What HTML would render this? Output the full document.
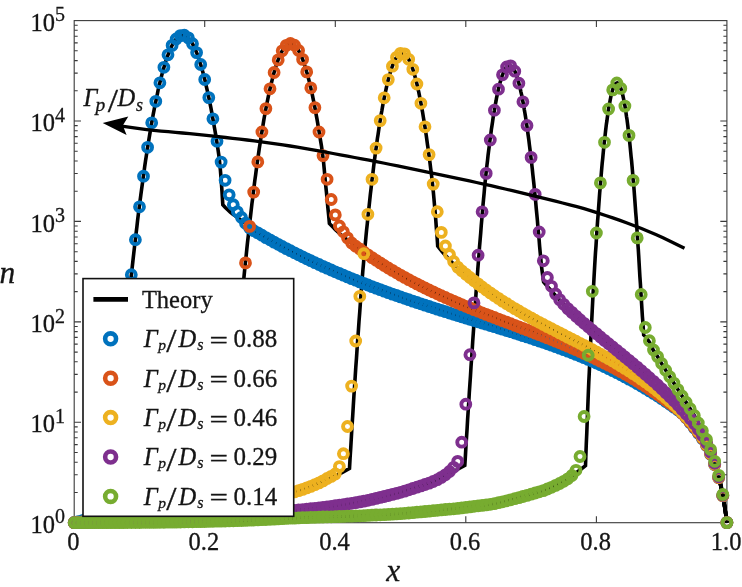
<!DOCTYPE html>
<html><head><meta charset="utf-8"><title>n versus x</title>
<style>html,body{margin:0;padding:0;background:#fff}</style></head>
<body>
<svg width="742" height="587" viewBox="0 0 742 587" style="display:block">
<rect width="742" height="587" fill="#fff"/>
<defs><clipPath id="cp"><rect x="66.2" y="12.6" width="668.7" height="518.1"/></clipPath></defs>
<g stroke="#3a3a3a" stroke-width="1.1" fill="none">
<rect x="74.2" y="20.6" width="652.7" height="502.1"/>
<path d="M74.2,492.5h3.5M726.9,492.5h-3.5M74.2,474.8h3.5M726.9,474.8h-3.5M74.2,462.2h3.5M726.9,462.2h-3.5M74.2,452.5h3.5M726.9,452.5h-3.5M74.2,444.6h3.5M726.9,444.6h-3.5M74.2,437.8h3.5M726.9,437.8h-3.5M74.2,432.0h3.5M726.9,432.0h-3.5M74.2,426.9h3.5M726.9,426.9h-3.5M74.2,422.3h6.8M726.9,422.3h-6.6M74.2,392.1h3.5M726.9,392.1h-3.5M74.2,374.4h3.5M726.9,374.4h-3.5M74.2,361.8h3.5M726.9,361.8h-3.5M74.2,352.1h3.5M726.9,352.1h-3.5M74.2,344.1h3.5M726.9,344.1h-3.5M74.2,337.4h3.5M726.9,337.4h-3.5M74.2,331.6h3.5M726.9,331.6h-3.5M74.2,326.5h3.5M726.9,326.5h-3.5M74.2,321.9h6.8M726.9,321.9h-6.6M74.2,291.6h3.5M726.9,291.6h-3.5M74.2,273.9h3.5M726.9,273.9h-3.5M74.2,261.4h3.5M726.9,261.4h-3.5M74.2,251.7h3.5M726.9,251.7h-3.5M74.2,243.7h3.5M726.9,243.7h-3.5M74.2,237.0h3.5M726.9,237.0h-3.5M74.2,231.2h3.5M726.9,231.2h-3.5M74.2,226.0h3.5M726.9,226.0h-3.5M74.2,221.4h6.8M726.9,221.4h-6.6M74.2,191.2h3.5M726.9,191.2h-3.5M74.2,173.5h3.5M726.9,173.5h-3.5M74.2,161.0h3.5M726.9,161.0h-3.5M74.2,151.2h3.5M726.9,151.2h-3.5M74.2,143.3h3.5M726.9,143.3h-3.5M74.2,136.6h3.5M726.9,136.6h-3.5M74.2,130.8h3.5M726.9,130.8h-3.5M74.2,125.6h3.5M726.9,125.6h-3.5M74.2,121.0h6.8M726.9,121.0h-6.6M74.2,90.8h3.5M726.9,90.8h-3.5M74.2,73.1h3.5M726.9,73.1h-3.5M74.2,60.6h3.5M726.9,60.6h-3.5M74.2,50.8h3.5M726.9,50.8h-3.5M74.2,42.9h3.5M726.9,42.9h-3.5M74.2,36.2h3.5M726.9,36.2h-3.5M74.2,30.3h3.5M726.9,30.3h-3.5M74.2,25.2h3.5M726.9,25.2h-3.5M204.7,522.7v-6.5M204.7,20.6v6.5M335.3,522.7v-6.5M335.3,20.6v6.5M465.8,522.7v-6.5M465.8,20.6v6.5M596.4,522.7v-6.5M596.4,20.6v6.5"/>
</g>
<g fill="none" stroke="#000" stroke-width="3.6" stroke-linejoin="miter" stroke-miterlimit="3">
<path d="M74.2,522.7 L75.5,522.4 L76.9,522.1 L78.2,521.8 L79.6,521.5 L80.9,521.2 L82.2,520.9 L83.6,520.4 L84.9,519.7 L86.2,518.9 L87.6,518.0 L88.9,516.9 L90.3,515.8 L91.6,514.3 L92.9,512.5 L94.3,510.4 L95.6,508.0 L96.9,505.6 L98.3,503.1 L99.6,500.7 L101.0,498.3 L102.3,496.0 L103.6,493.7 L105.0,491.3 L106.3,488.7 L107.6,485.9 L109.0,482.7 L110.3,479.0 L111.7,474.1 L113.0,468.5 L113.2,468.0 L114.0,460.1 L114.8,452.1 L115.6,443.8 L116.4,435.4 L117.1,426.7 L117.9,417.7 L118.7,408.4 L119.5,399.1 L120.3,389.8 L121.1,380.8 L121.9,372.1 L122.7,363.4 L123.5,354.8 L124.2,346.4 L125.0,338.1 L125.8,329.9 L126.6,321.7 L127.4,313.8 L128.2,305.9 L129.0,298.1 L129.8,290.5 L130.5,282.9 L131.3,275.5 L132.1,268.2 L132.9,261.0 L133.7,253.9 L134.5,246.9 L135.3,240.1 L136.1,233.3 L136.9,226.7 L137.6,220.2 L138.4,213.8 L139.2,207.5 L140.0,201.3 L140.8,195.2 L141.6,189.2 L142.4,183.4 L143.2,177.7 L144.0,172.0 L144.7,166.5 L145.5,161.1 L146.3,155.9 L147.1,150.7 L147.9,145.6 L148.7,140.7 L149.5,135.9 L150.3,131.1 L151.0,126.6 L151.8,122.1 L152.6,117.7 L153.4,113.4 L154.2,109.3 L155.0,105.2 L155.8,101.3 L156.6,97.5 L157.4,93.8 L158.1,90.2 L158.9,86.7 L159.7,83.4 L160.5,80.1 L161.3,77.0 L162.1,73.9 L162.9,71.1 L163.7,68.3 L164.5,65.6 L165.2,63.0 L166.0,60.5 L166.8,58.2 L167.6,56.0 L168.4,53.9 L169.2,51.8 L170.0,49.9 L170.8,48.1 L171.5,46.5 L172.3,45.0 L173.1,43.5 L173.9,42.1 L174.7,40.9 L175.5,39.9 L176.3,38.9 L177.1,37.9 L177.9,37.1 L178.6,36.4 L179.4,36.0 L180.2,35.7 L181.0,35.5 L181.8,35.3 L182.6,35.2 L183.4,35.1 L184.2,35.1 L185.0,35.4 L185.7,35.8 L186.5,36.3 L187.3,36.9 L188.1,37.6 L188.9,38.4 L189.7,39.3 L190.5,40.4 L191.3,41.6 L192.0,42.9 L192.8,44.3 L193.6,45.8 L194.4,47.5 L195.2,49.2 L196.0,51.1 L196.8,53.1 L197.6,55.2 L198.4,57.4 L199.1,59.7 L199.9,62.2 L200.7,64.7 L201.5,67.4 L202.3,70.2 L203.1,73.1 L203.9,76.1 L204.7,79.2 L205.5,82.5 L206.2,85.8 L207.0,89.3 L207.8,92.9 L208.6,96.6 L209.4,100.4 L210.2,104.4 L211.0,108.4 L211.8,112.6 L212.5,116.9 L213.3,121.2 L214.1,125.7 L214.9,130.2 L215.7,134.9 L216.5,139.8 L217.3,145.0 L218.1,150.2 L218.9,155.8 L219.6,162.2 L220.4,170.1 L221.2,180.0 L222.0,191.7 L222.8,204.7 L225.3,207.4 L227.7,209.8 L230.2,212.0 L232.7,214.0 L235.2,215.9 L237.6,217.7 L240.1,219.5 L242.6,221.2 L245.1,223.0 L247.5,224.8 L250.0,226.6 L252.0,229.7 L254.0,230.9 L256.0,231.9 L258.0,233.0 L260.0,234.2 L262.0,235.3 L264.0,236.5 L266.0,237.6 L268.0,238.7 L270.0,239.8 L272.0,240.9 L274.0,242.0 L276.0,243.1 L278.0,244.2 L280.0,245.3 L282.0,246.3 L284.0,247.4 L286.0,248.4 L288.0,249.5 L290.0,250.5 L292.0,251.5 L294.0,252.5 L296.0,253.5 L298.0,254.5 L300.0,255.5 L302.0,256.5 L304.0,257.5 L306.0,258.5 L308.0,259.4 L310.0,260.4 L312.0,261.3 L314.0,262.2 L316.0,263.2 L318.0,264.1 L320.0,265.0 L322.0,265.9 L324.0,266.8 L326.0,267.7 L328.0,268.6 L330.0,269.5 L332.0,270.4 L334.0,271.2 L336.0,272.1 L338.0,272.9 L340.0,273.8 L342.0,274.6 L344.0,275.5 L346.0,276.3 L348.0,277.1 L350.0,277.9 L352.0,278.8 L354.0,279.6 L356.0,280.4 L358.0,281.2 L360.0,281.9 L362.0,282.7 L364.0,283.5 L366.0,284.3 L368.0,285.1 L370.0,285.8 L372.0,286.6 L374.0,287.3 L376.0,288.1 L378.0,288.8 L380.0,289.6 L382.0,290.3 L384.0,291.0 L386.0,291.8 L388.0,292.5 L390.0,293.2 L392.0,293.9 L394.0,294.6 L396.0,295.3 L398.0,296.0 L400.0,296.7 L402.0,297.4 L404.0,298.1 L406.0,298.8 L408.0,299.5 L410.0,300.2 L412.0,300.8 L414.0,301.5 L416.0,302.2 L418.0,302.8 L420.0,303.5 L422.0,304.2 L424.0,304.8 L426.0,305.5 L428.0,306.1 L430.0,306.8 L432.0,307.4 L434.0,308.1 L436.0,308.7 L438.0,309.4 L440.0,310.0 L442.0,310.6 L444.0,311.3 L446.0,311.9 L448.0,312.5 L450.0,313.1 L452.0,313.8 L454.0,314.4 L456.0,315.0 L458.0,315.6 L460.0,316.2 L462.0,316.9 L464.0,317.5 L466.0,318.1 L468.0,318.7 L470.0,319.3 L472.0,319.9 L474.0,320.5 L476.0,321.1 L478.0,321.8 L480.0,322.4 L482.0,323.0 L484.0,323.6 L486.0,324.2 L488.0,324.8 L490.0,325.4 L492.0,326.0 L494.0,326.6 L496.0,327.2 L498.0,327.8 L500.0,328.4 L502.0,329.1 L504.0,329.7 L506.0,330.3 L508.0,330.9 L510.0,331.5 L512.0,332.1 L514.0,332.8 L516.0,333.4 L518.0,334.0 L520.0,334.7 L522.0,335.3 L524.0,335.9 L526.0,336.6 L528.0,337.2 L530.0,337.9 L532.0,338.5 L534.0,339.2 L536.0,339.9 L538.0,340.5 L540.0,341.2 L542.0,341.9 L544.0,342.6 L546.0,343.3 L548.0,344.0 L550.0,344.7 L552.0,345.4 L554.0,346.1 L556.0,346.8 L558.0,347.5 L560.0,348.3 L562.0,349.0 L564.0,349.8 L566.0,350.5 L568.0,351.3 L570.0,352.0 L572.0,352.8 L574.0,353.6 L576.0,354.4 L578.0,355.2 L580.0,356.0 L582.0,356.8 L584.0,357.7 L586.0,358.5 L588.0,359.3 L590.0,360.2 L592.0,361.1 L594.0,361.9 L596.0,362.8 L598.0,363.7 L600.0,364.6 L602.0,365.6 L604.0,366.5 L606.0,367.4 L608.0,368.4 L610.0,369.3 L612.0,370.3 L614.0,371.3 L616.0,372.3 L618.0,373.3 L620.0,374.3 L622.0,375.4 L624.0,376.4 L626.0,377.5 L628.0,378.5 L630.0,379.6 L632.0,380.7 L634.0,381.8 L636.0,383.0 L638.0,384.1 L640.0,385.2 L642.0,386.4 L644.0,387.6 L646.0,388.8 L648.0,390.0 L650.0,391.2 L652.0,392.5 L654.0,393.7 L656.0,395.0 L658.0,396.3 L660.0,397.6 L662.0,399.0 L664.0,400.3 L666.0,401.7 L668.0,403.0 L670.0,404.4 L672.0,405.9 L674.0,407.3 L676.0,408.7 L678.0,410.1 L680.0,411.6 L682.0,413.2 L684.0,415.2 L686.0,417.4 L688.0,419.9 L690.0,422.4 L692.0,425.0 L694.0,427.6 L696.0,430.1 L698.0,432.6 L700.0,435.2 L702.0,438.0 L704.0,441.1 L706.0,444.6 L708.0,448.5 L710.0,452.9 L712.0,457.6 L714.0,462.8 L716.0,468.6 L718.0,475.0 L720.0,482.6 L722.0,491.6 L724.0,502.5 L726.0,515.9 L726.9,522.7"/>
<path d="M74.2,522.7 L79.5,522.2 L84.8,521.6 L90.1,520.8 L95.4,520.0 L100.7,519.1 L106.0,518.2 L111.3,517.1 L116.6,516.0 L121.9,514.9 L127.2,513.7 L132.5,512.4 L137.8,511.1 L143.1,509.8 L148.4,508.4 L153.8,507.0 L159.1,505.5 L164.4,504.0 L169.7,502.3 L175.0,500.6 L180.3,498.6 L185.6,496.6 L190.9,494.3 L196.2,491.9 L201.5,489.2 L206.8,485.9 L212.1,482.0 L217.4,477.6 L222.7,472.9 L228.0,468.0 L227.8,468.0 L228.5,457.9 L229.3,448.0 L230.0,438.2 L230.7,428.7 L231.5,419.3 L232.2,410.0 L232.9,400.9 L233.6,391.9 L234.4,383.0 L235.1,374.2 L235.8,365.6 L236.6,357.0 L237.3,348.6 L238.0,340.2 L238.8,332.0 L239.5,323.9 L240.2,316.0 L241.0,308.1 L241.7,300.3 L242.4,292.7 L243.1,285.2 L243.9,277.8 L244.6,270.5 L245.3,263.3 L246.1,256.3 L246.8,249.3 L247.5,242.5 L248.3,235.8 L249.0,229.2 L249.7,222.7 L250.5,216.3 L251.2,210.1 L251.9,203.9 L252.7,197.9 L253.4,192.0 L254.1,186.2 L254.8,180.6 L255.6,175.0 L256.3,169.5 L257.0,164.2 L257.8,159.0 L258.5,153.9 L259.2,148.9 L260.0,144.0 L260.7,139.3 L261.4,134.6 L262.2,130.1 L262.9,125.7 L263.6,121.4 L264.3,117.2 L265.1,113.2 L265.8,109.2 L266.5,105.4 L267.3,101.7 L268.0,98.1 L268.7,94.6 L269.5,91.2 L270.2,88.0 L270.9,84.8 L271.7,81.8 L272.4,78.9 L273.1,76.1 L273.8,73.4 L274.6,70.8 L275.3,68.4 L276.0,66.0 L276.8,63.8 L277.5,61.7 L278.2,59.7 L279.0,57.8 L279.7,56.0 L280.4,54.4 L281.2,52.9 L281.9,51.5 L282.6,50.2 L283.4,49.0 L284.1,47.9 L284.8,47.0 L285.5,46.1 L286.3,45.3 L287.0,44.7 L287.7,44.2 L288.5,44.0 L289.2,43.9 L289.9,43.9 L290.7,43.8 L291.4,43.8 L292.1,43.8 L292.9,43.9 L293.6,44.4 L294.3,45.0 L295.0,45.8 L295.8,46.5 L296.5,47.3 L297.2,48.3 L298.0,49.5 L298.7,50.8 L299.4,52.1 L300.2,53.5 L300.9,55.1 L301.6,56.8 L302.4,58.7 L303.1,60.6 L303.8,62.6 L304.5,64.8 L305.3,67.0 L306.0,69.4 L306.7,72.0 L307.5,74.5 L308.2,77.3 L308.9,80.1 L309.7,83.1 L310.4,86.2 L311.1,89.4 L311.9,92.7 L312.6,96.1 L313.3,99.6 L314.1,103.3 L314.8,107.1 L315.5,110.9 L316.2,114.9 L317.0,119.1 L317.7,123.3 L318.4,127.6 L319.2,132.1 L319.9,136.5 L320.6,140.9 L321.4,145.6 L322.1,150.6 L322.8,156.1 L323.6,162.6 L324.3,170.0 L325.0,177.8 L325.7,185.4 L326.5,192.9 L327.2,200.4 L327.9,208.0 L328.7,215.7 L329.4,223.4 L331.4,225.6 L333.4,227.6 L335.4,229.6 L337.4,231.5 L339.4,233.3 L341.4,235.0 L343.4,236.7 L345.4,238.3 L347.4,239.9 L349.4,241.5 L351.4,243.0 L353.4,244.6 L355.4,246.0 L357.4,247.4 L359.4,248.8 L361.4,250.2 L363.4,251.6 L365.4,253.1 L367.4,254.4 L369.4,255.8 L371.4,257.2 L373.4,258.5 L375.4,259.8 L377.4,261.1 L379.4,262.4 L381.4,263.7 L383.4,264.9 L385.4,266.2 L387.4,267.4 L389.4,268.6 L391.4,269.8 L393.4,271.0 L395.4,272.2 L397.4,273.3 L399.4,274.5 L401.4,275.6 L403.4,276.7 L405.4,277.8 L407.4,278.9 L409.4,280.0 L411.4,281.1 L413.4,282.1 L415.4,283.2 L417.4,284.2 L419.4,285.2 L421.4,286.2 L423.4,287.2 L425.4,288.2 L427.4,289.2 L429.4,290.1 L431.4,291.1 L433.4,292.0 L435.4,293.0 L437.4,293.9 L439.4,294.8 L441.4,295.7 L443.4,296.6 L445.4,297.5 L447.4,298.4 L449.4,299.3 L451.4,300.2 L453.4,301.0 L455.4,301.9 L457.4,302.7 L459.4,303.6 L461.4,304.4 L463.4,305.3 L465.4,306.1 L467.4,306.9 L469.4,307.7 L471.4,308.5 L473.4,309.3 L475.4,310.1 L477.4,310.9 L479.4,311.7 L481.4,312.5 L483.4,313.3 L485.4,314.1 L487.4,314.8 L489.4,315.6 L491.4,316.4 L493.4,317.2 L495.4,317.9 L497.4,318.7 L499.4,319.5 L501.4,320.2 L503.4,321.0 L505.4,321.7 L507.4,322.5 L509.4,323.3 L511.4,324.0 L513.4,324.8 L515.4,325.5 L517.4,326.3 L519.4,327.0 L521.4,327.8 L523.4,328.6 L525.4,329.3 L527.4,330.1 L529.4,330.9 L531.4,331.6 L533.4,332.4 L535.4,333.2 L537.4,333.9 L539.4,334.7 L541.4,335.5 L543.4,336.3 L545.4,337.1 L547.4,337.9 L549.4,338.7 L551.4,339.5 L553.4,340.3 L555.4,341.1 L557.4,341.9 L559.4,342.7 L561.4,343.5 L563.4,344.4 L565.4,345.2 L567.4,346.0 L569.4,346.9 L571.4,347.7 L573.4,348.6 L575.4,349.5 L577.4,350.4 L579.4,351.2 L581.4,352.1 L583.4,353.0 L585.4,354.0 L587.4,354.9 L589.4,355.8 L591.4,356.7 L593.4,357.7 L595.4,358.6 L597.4,359.6 L599.4,360.6 L601.4,361.6 L603.4,362.6 L605.4,363.6 L607.4,364.6 L609.4,365.6 L611.4,366.7 L613.4,367.7 L615.4,368.8 L617.4,369.9 L619.4,370.9 L621.4,372.0 L623.4,373.2 L625.4,374.3 L627.4,375.4 L629.4,376.6 L631.4,377.8 L633.4,378.9 L635.4,380.1 L637.4,381.3 L639.4,382.6 L641.4,383.8 L643.4,385.1 L645.4,386.3 L647.4,387.6 L649.4,388.9 L651.4,390.3 L653.4,391.6 L655.4,392.9 L657.4,394.3 L659.4,395.7 L661.4,397.1 L663.4,398.5 L665.4,400.0 L667.4,401.4 L669.4,402.9 L671.4,404.4 L673.4,405.9 L675.4,407.3 L677.4,408.9 L679.4,410.6 L681.4,412.4 L683.4,414.5 L685.4,416.7 L687.4,418.9 L689.4,421.3 L691.4,423.7 L693.4,426.1 L695.4,428.6 L697.4,431.2 L699.4,433.9 L701.4,436.6 L703.4,439.6 L705.4,443.1 L707.4,446.9 L709.4,451.2 L711.4,455.9 L713.4,461.0 L715.4,466.6 L717.4,472.9 L719.4,480.1 L721.4,488.6 L723.4,498.9 L725.4,511.6 L726.9,522.7"/>
<path d="M74.2,522.7 L81.3,522.2 L88.3,521.7 L95.4,521.1 L102.4,520.5 L109.5,519.9 L116.6,519.3 L123.6,518.6 L130.7,518.0 L137.7,517.3 L144.8,516.5 L151.8,515.8 L158.9,515.0 L166.0,514.3 L173.0,513.4 L180.1,512.6 L187.1,511.7 L194.2,510.8 L201.3,509.8 L208.3,508.8 L215.4,507.7 L222.4,506.6 L229.5,505.5 L236.6,504.3 L243.6,503.0 L250.7,501.7 L257.7,500.4 L264.8,498.9 L271.9,497.4 L278.9,495.8 L286.0,494.1 L293.0,492.3 L300.1,490.3 L307.1,487.8 L314.2,484.9 L321.3,481.9 L328.3,479.0 L335.4,476.0 L342.4,472.5 L349.5,468.4 L350.1,457.7 L350.8,447.0 L351.4,436.6 L352.0,426.2 L352.7,416.0 L353.3,405.9 L353.9,396.0 L354.6,386.2 L355.2,376.6 L355.8,367.2 L356.5,357.9 L357.1,348.7 L357.7,339.5 L358.4,330.5 L359.0,321.5 L359.7,312.7 L360.3,304.0 L360.9,295.5 L361.6,287.1 L362.2,279.0 L362.8,271.1 L363.5,263.5 L364.1,256.1 L364.7,249.1 L365.4,242.5 L366.0,236.1 L366.6,229.9 L367.3,223.6 L367.9,217.4 L368.5,211.4 L369.2,205.4 L369.8,199.6 L370.4,193.9 L371.1,188.3 L371.7,182.8 L372.3,177.4 L373.0,172.2 L373.6,167.0 L374.2,162.0 L374.9,157.1 L375.5,152.3 L376.2,147.6 L376.8,143.0 L377.4,138.5 L378.1,134.2 L378.7,130.0 L379.3,125.8 L380.0,121.8 L380.6,117.9 L381.2,114.1 L381.9,110.5 L382.5,106.9 L383.1,103.5 L383.8,100.1 L384.4,96.9 L385.0,93.8 L385.7,90.8 L386.3,88.0 L386.9,85.2 L387.6,82.6 L388.2,80.0 L388.8,77.6 L389.5,75.3 L390.1,73.1 L390.7,71.0 L391.4,69.0 L392.0,67.2 L392.6,65.5 L393.3,63.8 L393.9,62.3 L394.6,60.9 L395.2,59.6 L395.8,58.5 L396.5,57.4 L397.1,56.4 L397.7,55.6 L398.4,54.9 L399.0,54.3 L399.6,53.7 L400.3,53.3 L400.9,53.2 L401.5,53.2 L402.2,53.2 L402.8,53.3 L403.4,53.4 L404.1,53.5 L404.7,53.9 L405.3,54.5 L406.0,55.2 L406.6,55.9 L407.2,56.8 L407.9,57.8 L408.5,58.9 L409.1,60.1 L409.8,61.4 L410.4,62.8 L411.0,64.4 L411.7,66.1 L412.3,67.9 L413.0,69.7 L413.6,71.8 L414.2,73.9 L414.9,76.1 L415.5,78.5 L416.1,80.9 L416.8,83.5 L417.4,86.2 L418.0,89.0 L418.7,91.9 L419.3,94.9 L419.9,98.1 L420.6,101.4 L421.2,104.7 L421.8,108.2 L422.5,111.8 L423.1,115.5 L423.7,119.3 L424.4,123.3 L425.0,127.3 L425.6,131.5 L426.3,135.8 L426.9,140.2 L427.5,144.7 L428.2,149.3 L428.8,154.0 L429.5,158.9 L430.1,163.7 L430.7,168.7 L431.4,173.9 L432.0,179.4 L432.6,185.2 L433.3,191.5 L433.9,198.2 L434.5,205.2 L435.2,212.6 L435.8,220.3 L436.4,228.5 L437.1,237.1 L437.7,246.0 L439.9,248.8 L442.1,251.5 L444.3,254.1 L446.5,256.5 L448.7,258.9 L450.9,261.2 L453.1,263.4 L455.3,265.5 L457.5,267.5 L459.5,268.9 L461.5,270.6 L463.5,272.2 L465.5,273.9 L467.5,275.5 L469.5,277.2 L471.5,278.8 L473.5,280.4 L475.5,282.0 L477.5,283.5 L479.5,285.0 L481.5,286.5 L483.5,288.0 L485.5,289.5 L487.5,290.9 L489.5,292.3 L491.5,293.7 L493.5,295.1 L495.5,296.4 L497.5,297.8 L499.5,299.1 L501.5,300.4 L503.5,301.7 L505.5,302.9 L507.5,304.2 L509.5,305.4 L511.5,306.7 L513.5,307.9 L515.5,309.1 L517.5,310.2 L519.5,311.4 L521.5,312.6 L523.5,313.7 L525.5,314.8 L527.5,315.9 L529.5,317.1 L531.5,318.2 L533.5,319.3 L535.5,320.3 L537.5,321.4 L539.5,322.5 L541.5,323.5 L543.5,324.6 L545.5,325.6 L547.5,326.7 L549.5,327.7 L551.5,328.7 L553.5,329.8 L555.5,330.8 L557.5,331.8 L559.5,332.8 L561.5,333.9 L563.5,334.9 L565.5,335.9 L567.5,336.9 L569.5,337.9 L571.5,339.0 L573.5,340.0 L575.5,341.0 L577.5,342.0 L579.5,343.1 L581.5,344.1 L583.5,345.1 L585.5,346.2 L587.5,347.2 L589.5,348.3 L591.5,349.3 L593.5,350.4 L595.5,351.4 L597.5,352.5 L599.5,353.6 L601.5,354.7 L603.5,355.8 L605.5,356.9 L607.5,358.1 L609.5,359.2 L611.5,360.3 L613.5,361.5 L615.5,362.7 L617.5,363.9 L619.5,365.1 L621.5,366.3 L623.5,367.5 L625.5,368.7 L627.5,370.0 L629.5,371.3 L631.5,372.6 L633.5,373.9 L635.5,375.2 L637.5,376.6 L639.5,377.9 L641.5,379.3 L643.5,380.7 L645.5,382.1 L647.5,383.6 L649.5,385.0 L651.5,386.5 L653.5,388.0 L655.5,389.6 L657.5,391.1 L659.5,392.7 L661.5,394.3 L663.5,396.0 L665.5,397.6 L667.5,399.3 L669.5,401.0 L671.5,402.8 L673.5,404.5 L675.5,406.3 L677.5,408.1 L679.5,409.9 L681.5,411.9 L683.5,413.9 L685.5,415.9 L687.5,418.0 L689.5,420.2 L691.5,422.5 L693.5,424.9 L695.5,427.4 L697.5,430.1 L699.5,432.9 L701.5,435.7 L703.5,438.8 L705.5,442.4 L707.5,446.3 L709.5,450.7 L711.5,455.6 L713.5,460.8 L715.5,466.6 L717.5,472.9 L719.5,480.2 L721.5,488.9 L723.5,499.4 L725.5,512.3 L726.9,522.7"/>
<path d="M74.2,522.7 L80.8,522.6 L87.4,522.5 L94.1,522.3 L100.7,522.2 L107.3,522.0 L113.9,521.8 L120.5,521.6 L127.2,521.3 L133.8,521.1 L140.4,520.9 L147.0,520.6 L153.6,520.4 L160.3,520.1 L166.9,519.7 L173.5,519.4 L180.1,519.0 L186.7,518.6 L193.4,518.2 L200.0,517.8 L206.6,517.4 L213.2,517.0 L219.8,516.5 L226.5,516.1 L233.1,515.6 L239.7,515.1 L246.3,514.6 L252.9,514.0 L259.6,513.5 L266.2,512.9 L272.8,512.3 L279.4,511.7 L286.1,511.1 L292.7,510.5 L299.3,509.9 L305.9,509.2 L312.5,508.5 L319.2,507.8 L325.8,507.0 L332.4,506.1 L339.0,505.2 L345.6,504.2 L352.3,503.2 L358.9,502.1 L365.5,500.8 L372.1,499.3 L378.7,497.8 L385.4,496.2 L392.0,494.5 L398.6,492.8 L405.2,490.9 L411.8,488.8 L418.5,486.7 L425.1,484.5 L431.7,482.1 L438.3,479.1 L444.9,475.8 L451.6,472.5 L458.2,469.0 L464.8,465.4 L465.4,456.1 L465.9,446.9 L466.5,437.7 L467.1,428.6 L467.6,419.6 L468.2,410.6 L468.8,401.7 L469.3,392.9 L469.9,384.2 L470.5,375.5 L471.0,367.0 L471.6,358.5 L472.2,350.0 L472.7,341.5 L473.3,333.1 L473.9,324.8 L474.4,316.5 L475.0,308.3 L475.6,300.2 L476.1,292.2 L476.7,284.4 L477.3,276.7 L477.8,269.1 L478.4,261.7 L479.0,254.5 L479.5,247.2 L480.1,240.1 L480.7,233.1 L481.2,226.1 L481.8,219.3 L482.4,212.6 L482.9,206.0 L483.5,199.6 L484.1,193.4 L484.6,187.3 L485.2,181.5 L485.8,175.9 L486.3,170.6 L486.9,165.6 L487.5,160.7 L488.0,155.8 L488.6,151.1 L489.2,146.5 L489.7,142.0 L490.3,137.7 L490.9,133.4 L491.4,129.3 L492.0,125.4 L492.6,121.5 L493.1,117.8 L493.7,114.2 L494.3,110.8 L494.8,107.4 L495.4,104.2 L496.0,101.2 L496.5,98.2 L497.1,95.4 L497.7,92.7 L498.2,90.1 L498.8,87.7 L499.4,85.4 L499.9,83.2 L500.5,81.1 L501.1,79.2 L501.6,77.4 L502.2,75.7 L502.8,74.2 L503.3,72.8 L503.9,71.5 L504.5,70.3 L505.1,69.2 L505.6,68.3 L506.2,67.5 L506.8,66.8 L507.3,66.3 L507.9,66.0 L508.5,65.8 L509.0,65.7 L509.6,65.6 L510.2,65.6 L510.7,65.8 L511.3,66.2 L511.9,66.7 L512.4,67.3 L513.0,68.0 L513.6,68.9 L514.1,69.9 L514.7,71.0 L515.3,72.3 L515.8,73.7 L516.4,75.2 L517.0,76.8 L517.5,78.6 L518.1,80.5 L518.7,82.5 L519.2,84.6 L519.8,86.9 L520.4,89.3 L520.9,91.8 L521.5,94.4 L522.1,97.2 L522.6,100.1 L523.2,103.2 L523.8,106.3 L524.3,109.6 L524.9,113.0 L525.5,116.6 L526.0,120.2 L526.6,124.0 L527.2,128.0 L527.7,132.0 L528.3,136.2 L528.9,140.5 L529.4,144.9 L530.0,149.5 L530.6,154.2 L531.1,159.0 L531.7,163.9 L532.3,169.0 L532.8,174.2 L533.4,179.5 L534.0,185.0 L534.5,190.5 L535.1,196.2 L535.7,202.1 L536.2,208.0 L536.8,214.1 L537.4,220.4 L537.9,226.9 L538.5,233.3 L539.1,239.6 L539.6,246.1 L540.2,252.6 L540.8,258.8 L541.3,264.5 L541.9,269.5 L542.5,274.1 L543.0,278.3 L543.6,282.0 L546.3,285.1 L548.9,288.1 L551.6,291.1 L554.2,294.1 L556.9,297.0 L559.5,299.9 L562.2,302.7 L564.8,305.6 L567.5,308.5 L569.5,310.2 L571.5,312.1 L573.5,313.9 L575.5,315.7 L577.5,317.5 L579.5,319.2 L581.5,321.0 L583.5,322.7 L585.5,324.5 L587.5,326.2 L589.5,327.9 L591.5,329.6 L593.5,331.3 L595.5,332.9 L597.5,334.6 L599.5,336.2 L601.5,337.9 L603.5,339.5 L605.5,341.2 L607.5,342.8 L609.5,344.4 L611.5,346.1 L613.5,347.7 L615.5,349.3 L617.5,350.9 L619.5,352.6 L621.5,354.2 L623.5,355.8 L625.5,357.4 L627.5,359.1 L629.5,360.7 L631.5,362.4 L633.5,364.1 L635.5,365.7 L637.5,367.4 L639.5,369.1 L641.5,370.8 L643.5,372.5 L645.5,374.2 L647.5,376.0 L649.5,377.8 L651.5,379.5 L653.5,381.3 L655.5,383.1 L657.5,385.0 L659.5,386.8 L661.5,388.7 L663.5,390.6 L665.5,392.5 L667.5,394.5 L669.5,396.4 L671.5,398.4 L673.5,400.4 L675.5,402.5 L677.5,404.6 L679.5,406.7 L681.5,408.8 L683.5,411.0 L685.5,413.2 L687.5,415.4 L689.5,417.7 L691.5,420.1 L693.5,422.6 L695.5,425.3 L697.5,428.2 L699.5,431.1 L701.5,434.0 L703.5,437.3 L705.5,441.0 L707.5,445.1 L709.5,449.7 L711.5,454.6 L713.5,460.0 L715.5,465.8 L717.5,472.3 L719.5,479.8 L721.5,488.6 L723.5,499.1 L725.5,512.2 L726.9,522.7"/>
<path d="M74.2,522.7 L80.7,522.7 L87.1,522.7 L93.6,522.7 L100.1,522.7 L106.6,522.6 L113.0,522.6 L119.5,522.6 L126.0,522.5 L132.4,522.5 L138.9,522.5 L145.4,522.4 L151.9,522.4 L158.3,522.3 L164.8,522.2 L171.3,522.1 L177.8,522.0 L184.2,521.9 L190.7,521.8 L197.2,521.7 L203.6,521.5 L210.1,521.4 L216.6,521.2 L223.1,521.0 L229.5,520.9 L236.0,520.7 L242.5,520.5 L248.9,520.2 L255.4,520.0 L261.9,519.7 L268.4,519.4 L274.8,519.0 L281.3,518.7 L287.8,518.4 L294.3,518.1 L300.7,517.8 L307.2,517.6 L313.7,517.3 L320.1,517.1 L326.6,516.9 L333.1,516.7 L339.6,516.5 L346.0,516.3 L352.5,516.1 L359.0,515.8 L365.4,515.5 L371.9,515.2 L378.4,514.9 L384.9,514.6 L391.3,514.2 L397.8,513.8 L404.3,513.3 L410.8,512.8 L417.2,512.2 L423.7,511.6 L430.2,511.0 L436.6,510.3 L443.1,509.7 L449.6,509.1 L456.1,508.5 L462.5,507.8 L469.0,507.0 L475.5,506.1 L481.9,505.4 L488.4,504.6 L494.9,503.4 L501.4,502.1 L507.8,500.5 L514.3,498.9 L520.8,497.1 L527.3,495.3 L533.7,493.5 L540.2,491.6 L546.7,489.3 L553.1,486.5 L559.6,483.5 L566.1,479.8 L572.6,475.5 L579.0,470.7 L585.5,465.7 L585.9,454.5 L586.3,443.5 L586.8,432.7 L587.2,422.0 L587.6,411.6 L588.0,401.4 L588.4,391.4 L588.8,381.6 L589.3,372.1 L589.7,362.9 L590.1,353.8 L590.5,344.9 L590.9,336.2 L591.4,327.6 L591.8,319.2 L592.2,311.0 L592.6,303.0 L593.0,295.1 L593.5,287.4 L593.9,279.9 L594.3,272.6 L594.7,265.6 L595.1,258.9 L595.5,252.3 L596.0,245.8 L596.4,239.4 L596.8,233.1 L597.2,226.9 L597.6,220.9 L598.1,215.0 L598.5,209.2 L598.9,203.6 L599.3,198.1 L599.7,192.7 L600.2,187.4 L600.6,182.3 L601.0,177.3 L601.4,172.4 L601.8,167.7 L602.2,163.1 L602.7,158.6 L603.1,154.2 L603.5,150.0 L603.9,145.9 L604.3,142.0 L604.8,138.1 L605.2,134.4 L605.6,130.8 L606.0,127.4 L606.4,124.1 L606.9,120.9 L607.3,117.8 L607.7,114.9 L608.1,112.1 L608.5,109.4 L608.9,106.8 L609.4,104.4 L609.8,102.2 L610.2,100.0 L610.6,98.0 L611.0,96.0 L611.5,94.3 L611.9,92.7 L612.3,91.1 L612.7,89.7 L613.1,88.5 L613.6,87.4 L614.0,86.4 L614.4,85.4 L614.8,84.7 L615.2,84.1 L615.6,83.8 L616.1,83.5 L616.5,83.2 L616.9,83.1 L617.3,83.0 L617.7,83.2 L618.2,83.5 L618.6,84.0 L619.0,84.5 L619.4,85.1 L619.8,85.9 L620.3,86.9 L620.7,88.0 L621.1,89.2 L621.5,90.4 L621.9,91.9 L622.3,93.5 L622.8,95.2 L623.2,97.1 L623.6,99.0 L624.0,101.1 L624.4,103.4 L624.9,105.7 L625.3,108.2 L625.7,110.8 L626.1,113.6 L626.5,116.5 L627.0,119.4 L627.4,122.6 L627.8,125.8 L628.2,129.2 L628.6,132.8 L629.0,136.4 L629.5,140.2 L629.9,144.1 L630.3,148.1 L630.7,152.3 L631.1,156.6 L631.6,161.0 L632.0,165.5 L632.4,170.2 L632.8,175.0 L633.2,180.0 L633.7,185.0 L634.1,190.2 L634.5,195.6 L634.9,201.0 L635.3,206.6 L635.7,212.3 L636.2,218.1 L636.6,224.1 L637.0,230.2 L637.4,236.4 L637.8,242.8 L638.3,249.3 L638.7,255.9 L639.1,262.8 L639.5,269.8 L639.9,276.9 L640.4,283.8 L640.8,290.5 L641.2,297.1 L641.6,303.6 L642.0,310.1 L642.4,316.5 L642.9,322.7 L643.3,328.9 L643.7,335.0 L645.6,336.8 L647.5,339.3 L649.4,342.1 L651.3,345.7 L653.2,350.0 L655.2,352.9 L657.2,356.0 L659.2,359.4 L661.2,362.8 L663.2,366.1 L665.2,369.4 L667.2,372.6 L669.2,375.8 L671.2,378.9 L673.2,382.0 L675.2,385.2 L677.2,388.4 L679.2,391.6 L681.2,394.7 L683.2,397.8 L685.2,400.8 L687.2,403.9 L689.2,407.1 L691.2,410.4 L693.2,413.7 L695.2,417.2 L697.2,420.9 L699.2,424.6 L701.2,428.4 L703.2,432.4 L705.2,436.6 L707.2,441.1 L709.2,445.9 L711.2,451.2 L713.2,456.8 L715.2,463.0 L717.2,469.7 L719.2,477.3 L721.2,486.1 L723.2,496.7 L725.2,509.7 L726.9,522.7"/>
</g>
<g fill="none" stroke="#0072BD" stroke-width="3.90">
<circle cx="74.2" cy="522.5" r="4.45"/>
<circle cx="78.3" cy="521.6" r="4.45"/>
<circle cx="82.4" cy="520.7" r="4.45"/>
<circle cx="86.4" cy="518.7" r="4.45"/>
<circle cx="90.5" cy="515.5" r="4.45"/>
<circle cx="94.6" cy="509.8" r="4.45"/>
<circle cx="98.7" cy="502.4" r="4.45"/>
<circle cx="102.8" cy="494.7" r="4.45"/>
<circle cx="106.8" cy="486.1" r="4.45"/>
<circle cx="110.9" cy="478.6" r="4.45"/>
<circle cx="115.0" cy="474.1" r="4.45"/>
<circle cx="119.1" cy="465.0" r="4.45"/>
<circle cx="123.2" cy="357.0" r="4.45"/>
<circle cx="127.2" cy="312.0" r="4.45"/>
<circle cx="131.3" cy="274.7" r="4.45"/>
<circle cx="135.4" cy="239.7" r="4.45"/>
<circle cx="139.5" cy="206.8" r="4.45"/>
<circle cx="143.5" cy="176.2" r="4.45"/>
<circle cx="147.6" cy="147.3" r="4.45"/>
<circle cx="151.7" cy="122.8" r="4.45"/>
<circle cx="155.8" cy="101.3" r="4.45"/>
<circle cx="159.9" cy="82.8" r="4.45"/>
<circle cx="163.9" cy="67.3" r="4.45"/>
<circle cx="168.0" cy="54.8" r="4.45"/>
<circle cx="172.1" cy="45.4" r="4.45"/>
<circle cx="176.2" cy="39.0" r="4.45"/>
<circle cx="180.3" cy="35.6" r="4.45"/>
<circle cx="184.3" cy="35.2" r="4.45"/>
<circle cx="188.4" cy="37.9" r="4.45"/>
<circle cx="192.5" cy="43.7" r="4.45"/>
<circle cx="196.6" cy="52.6" r="4.45"/>
<circle cx="200.7" cy="64.5" r="4.45"/>
<circle cx="204.7" cy="79.5" r="4.45"/>
<circle cx="208.8" cy="97.6" r="4.45"/>
<circle cx="212.9" cy="118.8" r="4.45"/>
<circle cx="217.0" cy="141.2" r="4.45"/>
<circle cx="221.1" cy="162.1" r="4.45"/>
<circle cx="225.1" cy="180.3" r="4.45"/>
<circle cx="229.2" cy="194.8" r="4.45"/>
<circle cx="233.3" cy="204.7" r="4.45"/>
<circle cx="237.4" cy="211.8" r="4.45"/>
<circle cx="241.5" cy="217.5" r="4.45"/>
<circle cx="245.5" cy="223.2" r="4.45"/>
<circle cx="249.6" cy="227.9" r="4.45"/>
<circle cx="253.7" cy="230.7" r="4.45"/>
<circle cx="257.8" cy="232.9" r="4.45"/>
<circle cx="261.9" cy="235.2" r="4.45"/>
<circle cx="265.9" cy="237.6" r="4.45"/>
<circle cx="270.0" cy="239.8" r="4.45"/>
<circle cx="274.1" cy="242.1" r="4.45"/>
<circle cx="278.2" cy="244.3" r="4.45"/>
<circle cx="282.2" cy="246.5" r="4.45"/>
<circle cx="286.3" cy="248.6" r="4.45"/>
<circle cx="290.4" cy="250.7" r="4.45"/>
<circle cx="294.5" cy="252.8" r="4.45"/>
<circle cx="298.6" cy="254.8" r="4.45"/>
<circle cx="302.6" cy="256.8" r="4.45"/>
<circle cx="306.7" cy="258.8" r="4.45"/>
<circle cx="310.8" cy="260.7" r="4.45"/>
<circle cx="314.9" cy="262.7" r="4.45"/>
<circle cx="319.0" cy="264.5" r="4.45"/>
<circle cx="323.0" cy="266.4" r="4.45"/>
<circle cx="327.1" cy="268.2" r="4.45"/>
<circle cx="331.2" cy="270.0" r="4.45"/>
<circle cx="335.3" cy="271.8" r="4.45"/>
<circle cx="339.4" cy="273.5" r="4.45"/>
<circle cx="343.4" cy="275.2" r="4.45"/>
<circle cx="347.5" cy="276.9" r="4.45"/>
<circle cx="351.6" cy="278.6" r="4.45"/>
<circle cx="355.7" cy="280.2" r="4.45"/>
<circle cx="359.8" cy="281.9" r="4.45"/>
<circle cx="363.8" cy="283.4" r="4.45"/>
<circle cx="367.9" cy="285.0" r="4.45"/>
<circle cx="372.0" cy="286.6" r="4.45"/>
<circle cx="376.1" cy="288.1" r="4.45"/>
<circle cx="380.2" cy="289.6" r="4.45"/>
<circle cx="384.2" cy="291.1" r="4.45"/>
<circle cx="388.3" cy="292.6" r="4.45"/>
<circle cx="392.4" cy="294.1" r="4.45"/>
<circle cx="396.5" cy="295.5" r="4.45"/>
<circle cx="400.5" cy="296.9" r="4.45"/>
<circle cx="404.6" cy="298.3" r="4.45"/>
<circle cx="408.7" cy="299.7" r="4.45"/>
<circle cx="412.8" cy="301.1" r="4.45"/>
<circle cx="416.9" cy="302.5" r="4.45"/>
<circle cx="420.9" cy="303.8" r="4.45"/>
<circle cx="425.0" cy="305.2" r="4.45"/>
<circle cx="429.1" cy="306.5" r="4.45"/>
<circle cx="433.2" cy="307.8" r="4.45"/>
<circle cx="437.3" cy="309.1" r="4.45"/>
<circle cx="441.3" cy="310.4" r="4.45"/>
<circle cx="445.4" cy="311.7" r="4.45"/>
<circle cx="449.5" cy="313.0" r="4.45"/>
<circle cx="453.6" cy="314.3" r="4.45"/>
<circle cx="457.7" cy="315.5" r="4.45"/>
<circle cx="461.7" cy="316.8" r="4.45"/>
<circle cx="465.8" cy="318.0" r="4.45"/>
<circle cx="469.9" cy="319.3" r="4.45"/>
<circle cx="474.0" cy="320.5" r="4.45"/>
<circle cx="478.1" cy="321.8" r="4.45"/>
<circle cx="482.1" cy="323.0" r="4.45"/>
<circle cx="486.2" cy="324.2" r="4.45"/>
<circle cx="490.3" cy="325.5" r="4.45"/>
<circle cx="494.4" cy="326.7" r="4.45"/>
<circle cx="498.5" cy="328.0" r="4.45"/>
<circle cx="502.5" cy="329.2" r="4.45"/>
<circle cx="506.6" cy="330.5" r="4.45"/>
<circle cx="510.7" cy="331.7" r="4.45"/>
<circle cx="514.8" cy="333.0" r="4.45"/>
<circle cx="518.9" cy="334.3" r="4.45"/>
<circle cx="522.9" cy="335.6" r="4.45"/>
<circle cx="527.0" cy="336.9" r="4.45"/>
<circle cx="531.1" cy="338.2" r="4.45"/>
<circle cx="535.2" cy="339.6" r="4.45"/>
<circle cx="539.2" cy="341.0" r="4.45"/>
<circle cx="543.3" cy="342.3" r="4.45"/>
<circle cx="547.4" cy="343.8" r="4.45"/>
<circle cx="551.5" cy="345.2" r="4.45"/>
<circle cx="555.6" cy="346.6" r="4.45"/>
<circle cx="559.6" cy="348.1" r="4.45"/>
<circle cx="563.7" cy="349.7" r="4.45"/>
<circle cx="567.8" cy="351.2" r="4.45"/>
<circle cx="571.9" cy="352.8" r="4.45"/>
<circle cx="576.0" cy="354.4" r="4.45"/>
<circle cx="580.0" cy="356.0" r="4.45"/>
<circle cx="584.1" cy="357.7" r="4.45"/>
<circle cx="588.2" cy="359.4" r="4.45"/>
<circle cx="592.3" cy="361.2" r="4.45"/>
<circle cx="596.4" cy="363.0" r="4.45"/>
<circle cx="600.4" cy="364.8" r="4.45"/>
<circle cx="604.5" cy="366.7" r="4.45"/>
<circle cx="608.6" cy="368.7" r="4.45"/>
<circle cx="612.7" cy="370.6" r="4.45"/>
<circle cx="616.8" cy="372.7" r="4.45"/>
<circle cx="620.8" cy="374.8" r="4.45"/>
<circle cx="624.9" cy="376.9" r="4.45"/>
<circle cx="629.0" cy="379.1" r="4.45"/>
<circle cx="633.1" cy="381.3" r="4.45"/>
<circle cx="637.2" cy="383.6" r="4.45"/>
<circle cx="641.2" cy="386.0" r="4.45"/>
<circle cx="645.3" cy="388.4" r="4.45"/>
<circle cx="649.4" cy="390.9" r="4.45"/>
<circle cx="653.5" cy="393.4" r="4.45"/>
<circle cx="657.6" cy="396.0" r="4.45"/>
<circle cx="661.6" cy="398.7" r="4.45"/>
<circle cx="665.7" cy="401.5" r="4.45"/>
<circle cx="669.8" cy="404.3" r="4.45"/>
<circle cx="673.9" cy="407.2" r="4.45"/>
<circle cx="677.9" cy="410.0" r="4.45"/>
<circle cx="682.0" cy="413.2" r="4.45"/>
<circle cx="686.1" cy="417.6" r="4.45"/>
<circle cx="690.2" cy="422.7" r="4.45"/>
<circle cx="694.3" cy="427.9" r="4.45"/>
<circle cx="698.3" cy="433.1" r="4.45"/>
<circle cx="702.4" cy="438.6" r="4.45"/>
<circle cx="706.5" cy="445.5" r="4.45"/>
<circle cx="710.6" cy="454.2" r="4.45"/>
<circle cx="714.7" cy="464.7" r="4.45"/>
<circle cx="718.7" cy="477.7" r="4.45"/>
<circle cx="722.8" cy="495.8" r="4.45"/>
<circle cx="726.9" cy="522.6" r="4.45"/>
</g>
<g fill="none" stroke="#D95319" stroke-width="3.90">
<circle cx="74.2" cy="522.6" r="4.45"/>
<circle cx="78.3" cy="522.2" r="4.45"/>
<circle cx="82.4" cy="521.8" r="4.45"/>
<circle cx="86.4" cy="521.3" r="4.45"/>
<circle cx="90.5" cy="520.7" r="4.45"/>
<circle cx="94.6" cy="520.1" r="4.45"/>
<circle cx="98.7" cy="519.4" r="4.45"/>
<circle cx="102.8" cy="518.7" r="4.45"/>
<circle cx="106.8" cy="518.0" r="4.45"/>
<circle cx="110.9" cy="517.2" r="4.45"/>
<circle cx="115.0" cy="516.3" r="4.45"/>
<circle cx="119.1" cy="515.5" r="4.45"/>
<circle cx="123.2" cy="514.6" r="4.45"/>
<circle cx="127.2" cy="513.7" r="4.45"/>
<circle cx="131.3" cy="512.7" r="4.45"/>
<circle cx="135.4" cy="511.7" r="4.45"/>
<circle cx="139.5" cy="510.7" r="4.45"/>
<circle cx="143.5" cy="509.7" r="4.45"/>
<circle cx="147.6" cy="508.6" r="4.45"/>
<circle cx="151.7" cy="507.5" r="4.45"/>
<circle cx="155.8" cy="506.4" r="4.45"/>
<circle cx="159.9" cy="505.3" r="4.45"/>
<circle cx="163.9" cy="504.1" r="4.45"/>
<circle cx="168.0" cy="502.8" r="4.45"/>
<circle cx="172.1" cy="501.4" r="4.45"/>
<circle cx="176.2" cy="500.0" r="4.45"/>
<circle cx="180.3" cy="498.5" r="4.45"/>
<circle cx="184.3" cy="497.0" r="4.45"/>
<circle cx="188.4" cy="495.3" r="4.45"/>
<circle cx="192.5" cy="493.5" r="4.45"/>
<circle cx="196.6" cy="491.6" r="4.45"/>
<circle cx="200.7" cy="489.7" r="4.45"/>
<circle cx="204.7" cy="487.9" r="4.45"/>
<circle cx="208.8" cy="486.2" r="4.45"/>
<circle cx="212.9" cy="484.3" r="4.45"/>
<circle cx="217.0" cy="481.9" r="4.45"/>
<circle cx="221.1" cy="478.6" r="4.45"/>
<circle cx="225.1" cy="474.1" r="4.45"/>
<circle cx="229.2" cy="466.5" r="4.45"/>
<circle cx="233.3" cy="436.7" r="4.45"/>
<circle cx="237.4" cy="352.0" r="4.45"/>
<circle cx="241.5" cy="304.0" r="4.45"/>
<circle cx="245.5" cy="262.9" r="4.45"/>
<circle cx="249.6" cy="226.4" r="4.45"/>
<circle cx="253.7" cy="192.1" r="4.45"/>
<circle cx="257.8" cy="161.9" r="4.45"/>
<circle cx="261.9" cy="132.0" r="4.45"/>
<circle cx="265.9" cy="108.6" r="4.45"/>
<circle cx="270.0" cy="88.8" r="4.45"/>
<circle cx="274.1" cy="72.5" r="4.45"/>
<circle cx="278.2" cy="59.9" r="4.45"/>
<circle cx="282.2" cy="50.8" r="4.45"/>
<circle cx="286.3" cy="45.4" r="4.45"/>
<circle cx="290.4" cy="43.5" r="4.45"/>
<circle cx="294.5" cy="45.2" r="4.45"/>
<circle cx="298.6" cy="50.5" r="4.45"/>
<circle cx="302.6" cy="59.4" r="4.45"/>
<circle cx="306.7" cy="71.9" r="4.45"/>
<circle cx="310.8" cy="87.9" r="4.45"/>
<circle cx="314.9" cy="107.6" r="4.45"/>
<circle cx="319.0" cy="132.0" r="4.45"/>
<circle cx="323.0" cy="155.6" r="4.45"/>
<circle cx="327.1" cy="179.3" r="4.45"/>
<circle cx="331.2" cy="199.5" r="4.45"/>
<circle cx="335.3" cy="214.9" r="4.45"/>
<circle cx="339.4" cy="226.0" r="4.45"/>
<circle cx="343.4" cy="231.8" r="4.45"/>
<circle cx="347.5" cy="237.9" r="4.45"/>
<circle cx="351.6" cy="243.0" r="4.45"/>
<circle cx="355.7" cy="246.2" r="4.45"/>
<circle cx="359.8" cy="249.0" r="4.45"/>
<circle cx="363.8" cy="252.0" r="4.45"/>
<circle cx="367.9" cy="254.8" r="4.45"/>
<circle cx="372.0" cy="257.6" r="4.45"/>
<circle cx="376.1" cy="260.3" r="4.45"/>
<circle cx="380.2" cy="262.9" r="4.45"/>
<circle cx="384.2" cy="265.5" r="4.45"/>
<circle cx="388.3" cy="268.0" r="4.45"/>
<circle cx="392.4" cy="270.4" r="4.45"/>
<circle cx="396.5" cy="272.8" r="4.45"/>
<circle cx="400.5" cy="275.1" r="4.45"/>
<circle cx="404.6" cy="277.4" r="4.45"/>
<circle cx="408.7" cy="279.6" r="4.45"/>
<circle cx="412.8" cy="281.8" r="4.45"/>
<circle cx="416.9" cy="283.9" r="4.45"/>
<circle cx="420.9" cy="286.0" r="4.45"/>
<circle cx="425.0" cy="288.0" r="4.45"/>
<circle cx="429.1" cy="290.0" r="4.45"/>
<circle cx="433.2" cy="291.9" r="4.45"/>
<circle cx="437.3" cy="293.8" r="4.45"/>
<circle cx="441.3" cy="295.7" r="4.45"/>
<circle cx="445.4" cy="297.5" r="4.45"/>
<circle cx="449.5" cy="299.3" r="4.45"/>
<circle cx="453.6" cy="301.1" r="4.45"/>
<circle cx="457.7" cy="302.9" r="4.45"/>
<circle cx="461.7" cy="304.6" r="4.45"/>
<circle cx="465.8" cy="306.3" r="4.45"/>
<circle cx="469.9" cy="307.9" r="4.45"/>
<circle cx="474.0" cy="309.6" r="4.45"/>
<circle cx="478.1" cy="311.2" r="4.45"/>
<circle cx="482.1" cy="312.8" r="4.45"/>
<circle cx="486.2" cy="314.4" r="4.45"/>
<circle cx="490.3" cy="316.0" r="4.45"/>
<circle cx="494.4" cy="317.5" r="4.45"/>
<circle cx="498.5" cy="319.1" r="4.45"/>
<circle cx="502.5" cy="320.7" r="4.45"/>
<circle cx="506.6" cy="322.2" r="4.45"/>
<circle cx="510.7" cy="323.7" r="4.45"/>
<circle cx="514.8" cy="325.3" r="4.45"/>
<circle cx="518.9" cy="326.8" r="4.45"/>
<circle cx="522.9" cy="328.4" r="4.45"/>
<circle cx="527.0" cy="329.9" r="4.45"/>
<circle cx="531.1" cy="331.5" r="4.45"/>
<circle cx="535.2" cy="333.1" r="4.45"/>
<circle cx="539.2" cy="334.7" r="4.45"/>
<circle cx="543.3" cy="336.3" r="4.45"/>
<circle cx="547.4" cy="337.9" r="4.45"/>
<circle cx="551.5" cy="339.5" r="4.45"/>
<circle cx="555.6" cy="341.1" r="4.45"/>
<circle cx="559.6" cy="342.8" r="4.45"/>
<circle cx="563.7" cy="344.5" r="4.45"/>
<circle cx="567.8" cy="346.2" r="4.45"/>
<circle cx="571.9" cy="348.0" r="4.45"/>
<circle cx="576.0" cy="349.7" r="4.45"/>
<circle cx="580.0" cy="351.5" r="4.45"/>
<circle cx="584.1" cy="353.4" r="4.45"/>
<circle cx="588.2" cy="355.2" r="4.45"/>
<circle cx="592.3" cy="357.2" r="4.45"/>
<circle cx="596.4" cy="359.1" r="4.45"/>
<circle cx="600.4" cy="361.1" r="4.45"/>
<circle cx="604.5" cy="363.1" r="4.45"/>
<circle cx="608.6" cy="365.2" r="4.45"/>
<circle cx="612.7" cy="367.3" r="4.45"/>
<circle cx="616.8" cy="369.5" r="4.45"/>
<circle cx="620.8" cy="371.7" r="4.45"/>
<circle cx="624.9" cy="374.0" r="4.45"/>
<circle cx="629.0" cy="376.3" r="4.45"/>
<circle cx="633.1" cy="378.7" r="4.45"/>
<circle cx="637.2" cy="381.2" r="4.45"/>
<circle cx="641.2" cy="383.7" r="4.45"/>
<circle cx="645.3" cy="386.3" r="4.45"/>
<circle cx="649.4" cy="388.9" r="4.45"/>
<circle cx="653.5" cy="391.6" r="4.45"/>
<circle cx="657.6" cy="394.4" r="4.45"/>
<circle cx="661.6" cy="397.3" r="4.45"/>
<circle cx="665.7" cy="400.2" r="4.45"/>
<circle cx="669.8" cy="403.2" r="4.45"/>
<circle cx="673.9" cy="406.2" r="4.45"/>
<circle cx="677.9" cy="409.3" r="4.45"/>
<circle cx="682.0" cy="413.1" r="4.45"/>
<circle cx="686.1" cy="417.5" r="4.45"/>
<circle cx="690.2" cy="422.2" r="4.45"/>
<circle cx="694.3" cy="427.2" r="4.45"/>
<circle cx="698.3" cy="432.5" r="4.45"/>
<circle cx="702.4" cy="438.1" r="4.45"/>
<circle cx="706.5" cy="445.1" r="4.45"/>
<circle cx="710.6" cy="453.9" r="4.45"/>
<circle cx="714.7" cy="464.5" r="4.45"/>
<circle cx="718.7" cy="477.6" r="4.45"/>
<circle cx="722.8" cy="495.7" r="4.45"/>
<circle cx="726.9" cy="522.6" r="4.45"/>
</g>
<g fill="none" stroke="#EDB120" stroke-width="3.90">
<circle cx="74.2" cy="522.7" r="4.45"/>
<circle cx="78.3" cy="522.4" r="4.45"/>
<circle cx="82.4" cy="522.1" r="4.45"/>
<circle cx="86.4" cy="521.8" r="4.45"/>
<circle cx="90.5" cy="521.5" r="4.45"/>
<circle cx="94.6" cy="521.2" r="4.45"/>
<circle cx="98.7" cy="520.9" r="4.45"/>
<circle cx="102.8" cy="520.5" r="4.45"/>
<circle cx="106.8" cy="520.2" r="4.45"/>
<circle cx="110.9" cy="519.8" r="4.45"/>
<circle cx="115.0" cy="519.4" r="4.45"/>
<circle cx="119.1" cy="519.1" r="4.45"/>
<circle cx="123.2" cy="518.7" r="4.45"/>
<circle cx="127.2" cy="518.3" r="4.45"/>
<circle cx="131.3" cy="517.9" r="4.45"/>
<circle cx="135.4" cy="517.5" r="4.45"/>
<circle cx="139.5" cy="517.1" r="4.45"/>
<circle cx="143.5" cy="516.7" r="4.45"/>
<circle cx="147.6" cy="516.2" r="4.45"/>
<circle cx="151.7" cy="515.8" r="4.45"/>
<circle cx="155.8" cy="515.4" r="4.45"/>
<circle cx="159.9" cy="514.9" r="4.45"/>
<circle cx="163.9" cy="514.5" r="4.45"/>
<circle cx="168.0" cy="514.0" r="4.45"/>
<circle cx="172.1" cy="513.5" r="4.45"/>
<circle cx="176.2" cy="513.1" r="4.45"/>
<circle cx="180.3" cy="512.6" r="4.45"/>
<circle cx="184.3" cy="512.0" r="4.45"/>
<circle cx="188.4" cy="511.5" r="4.45"/>
<circle cx="192.5" cy="511.0" r="4.45"/>
<circle cx="196.6" cy="510.4" r="4.45"/>
<circle cx="200.7" cy="509.9" r="4.45"/>
<circle cx="204.7" cy="509.3" r="4.45"/>
<circle cx="208.8" cy="508.7" r="4.45"/>
<circle cx="212.9" cy="508.1" r="4.45"/>
<circle cx="217.0" cy="507.5" r="4.45"/>
<circle cx="221.1" cy="506.8" r="4.45"/>
<circle cx="225.1" cy="506.2" r="4.45"/>
<circle cx="229.2" cy="505.5" r="4.45"/>
<circle cx="233.3" cy="504.8" r="4.45"/>
<circle cx="237.4" cy="504.1" r="4.45"/>
<circle cx="241.5" cy="503.4" r="4.45"/>
<circle cx="245.5" cy="502.7" r="4.45"/>
<circle cx="249.6" cy="501.9" r="4.45"/>
<circle cx="253.7" cy="501.2" r="4.45"/>
<circle cx="257.8" cy="500.4" r="4.45"/>
<circle cx="261.9" cy="499.5" r="4.45"/>
<circle cx="265.9" cy="498.7" r="4.45"/>
<circle cx="270.0" cy="497.8" r="4.45"/>
<circle cx="274.1" cy="496.9" r="4.45"/>
<circle cx="278.2" cy="496.0" r="4.45"/>
<circle cx="282.2" cy="495.0" r="4.45"/>
<circle cx="286.3" cy="494.0" r="4.45"/>
<circle cx="290.4" cy="492.9" r="4.45"/>
<circle cx="294.5" cy="491.9" r="4.45"/>
<circle cx="298.6" cy="490.7" r="4.45"/>
<circle cx="302.6" cy="489.4" r="4.45"/>
<circle cx="306.7" cy="487.9" r="4.45"/>
<circle cx="310.8" cy="486.4" r="4.45"/>
<circle cx="314.9" cy="484.6" r="4.45"/>
<circle cx="319.0" cy="482.9" r="4.45"/>
<circle cx="323.0" cy="480.9" r="4.45"/>
<circle cx="327.1" cy="478.5" r="4.45"/>
<circle cx="331.2" cy="476.4" r="4.45"/>
<circle cx="335.3" cy="474.0" r="4.45"/>
<circle cx="339.4" cy="466.6" r="4.45"/>
<circle cx="343.4" cy="453.7" r="4.45"/>
<circle cx="347.5" cy="426.5" r="4.45"/>
<circle cx="351.6" cy="386.1" r="4.45"/>
<circle cx="355.7" cy="341.0" r="4.45"/>
<circle cx="359.8" cy="296.3" r="4.45"/>
<circle cx="363.8" cy="253.7" r="4.45"/>
<circle cx="367.9" cy="214.3" r="4.45"/>
<circle cx="372.0" cy="179.3" r="4.45"/>
<circle cx="376.1" cy="148.1" r="4.45"/>
<circle cx="380.2" cy="120.6" r="4.45"/>
<circle cx="384.2" cy="97.8" r="4.45"/>
<circle cx="388.3" cy="79.6" r="4.45"/>
<circle cx="392.4" cy="66.2" r="4.45"/>
<circle cx="396.5" cy="57.4" r="4.45"/>
<circle cx="400.5" cy="53.3" r="4.45"/>
<circle cx="404.6" cy="53.9" r="4.45"/>
<circle cx="408.7" cy="59.3" r="4.45"/>
<circle cx="412.8" cy="69.3" r="4.45"/>
<circle cx="416.9" cy="84.0" r="4.45"/>
<circle cx="420.9" cy="103.3" r="4.45"/>
<circle cx="425.0" cy="126.8" r="4.45"/>
<circle cx="429.1" cy="154.6" r="4.45"/>
<circle cx="433.2" cy="184.1" r="4.45"/>
<circle cx="437.3" cy="211.7" r="4.45"/>
<circle cx="441.3" cy="232.4" r="4.45"/>
<circle cx="445.4" cy="246.0" r="4.45"/>
<circle cx="449.5" cy="254.5" r="4.45"/>
<circle cx="453.6" cy="261.5" r="4.45"/>
<circle cx="457.7" cy="267.1" r="4.45"/>
<circle cx="461.7" cy="270.8" r="4.45"/>
<circle cx="465.8" cy="274.1" r="4.45"/>
<circle cx="469.9" cy="277.5" r="4.45"/>
<circle cx="474.0" cy="280.8" r="4.45"/>
<circle cx="478.1" cy="283.9" r="4.45"/>
<circle cx="482.1" cy="287.0" r="4.45"/>
<circle cx="486.2" cy="290.0" r="4.45"/>
<circle cx="490.3" cy="292.9" r="4.45"/>
<circle cx="494.4" cy="295.7" r="4.45"/>
<circle cx="498.5" cy="298.4" r="4.45"/>
<circle cx="502.5" cy="301.1" r="4.45"/>
<circle cx="506.6" cy="303.6" r="4.45"/>
<circle cx="510.7" cy="306.2" r="4.45"/>
<circle cx="514.8" cy="308.6" r="4.45"/>
<circle cx="518.9" cy="311.0" r="4.45"/>
<circle cx="522.9" cy="313.4" r="4.45"/>
<circle cx="527.0" cy="315.7" r="4.45"/>
<circle cx="531.1" cy="317.9" r="4.45"/>
<circle cx="535.2" cy="320.2" r="4.45"/>
<circle cx="539.2" cy="322.3" r="4.45"/>
<circle cx="543.3" cy="324.5" r="4.45"/>
<circle cx="547.4" cy="326.6" r="4.45"/>
<circle cx="551.5" cy="328.7" r="4.45"/>
<circle cx="555.6" cy="330.8" r="4.45"/>
<circle cx="559.6" cy="332.9" r="4.45"/>
<circle cx="563.7" cy="335.0" r="4.45"/>
<circle cx="567.8" cy="337.1" r="4.45"/>
<circle cx="571.9" cy="339.2" r="4.45"/>
<circle cx="576.0" cy="341.2" r="4.45"/>
<circle cx="580.0" cy="343.3" r="4.45"/>
<circle cx="584.1" cy="345.4" r="4.45"/>
<circle cx="588.2" cy="347.6" r="4.45"/>
<circle cx="592.3" cy="349.7" r="4.45"/>
<circle cx="596.4" cy="351.9" r="4.45"/>
<circle cx="600.4" cy="354.1" r="4.45"/>
<circle cx="604.5" cy="356.4" r="4.45"/>
<circle cx="608.6" cy="358.7" r="4.45"/>
<circle cx="612.7" cy="361.0" r="4.45"/>
<circle cx="616.8" cy="363.4" r="4.45"/>
<circle cx="620.8" cy="365.9" r="4.45"/>
<circle cx="624.9" cy="368.4" r="4.45"/>
<circle cx="629.0" cy="371.0" r="4.45"/>
<circle cx="633.1" cy="373.6" r="4.45"/>
<circle cx="637.2" cy="376.3" r="4.45"/>
<circle cx="641.2" cy="379.1" r="4.45"/>
<circle cx="645.3" cy="382.0" r="4.45"/>
<circle cx="649.4" cy="385.0" r="4.45"/>
<circle cx="653.5" cy="388.0" r="4.45"/>
<circle cx="657.6" cy="391.2" r="4.45"/>
<circle cx="661.6" cy="394.4" r="4.45"/>
<circle cx="665.7" cy="397.8" r="4.45"/>
<circle cx="669.8" cy="401.3" r="4.45"/>
<circle cx="673.9" cy="404.8" r="4.45"/>
<circle cx="677.9" cy="408.5" r="4.45"/>
<circle cx="682.0" cy="412.4" r="4.45"/>
<circle cx="686.1" cy="416.6" r="4.45"/>
<circle cx="690.2" cy="421.0" r="4.45"/>
<circle cx="694.3" cy="425.8" r="4.45"/>
<circle cx="698.3" cy="431.3" r="4.45"/>
<circle cx="702.4" cy="437.1" r="4.45"/>
<circle cx="706.5" cy="444.3" r="4.45"/>
<circle cx="710.6" cy="453.3" r="4.45"/>
<circle cx="714.7" cy="464.1" r="4.45"/>
<circle cx="718.7" cy="477.3" r="4.45"/>
<circle cx="722.8" cy="495.6" r="4.45"/>
<circle cx="726.9" cy="522.6" r="4.45"/>
</g>
<g fill="none" stroke="#7E2F8E" stroke-width="3.90">
<circle cx="74.2" cy="522.7" r="4.45"/>
<circle cx="78.3" cy="522.6" r="4.45"/>
<circle cx="82.4" cy="522.6" r="4.45"/>
<circle cx="86.4" cy="522.5" r="4.45"/>
<circle cx="90.5" cy="522.4" r="4.45"/>
<circle cx="94.6" cy="522.3" r="4.45"/>
<circle cx="98.7" cy="522.2" r="4.45"/>
<circle cx="102.8" cy="522.1" r="4.45"/>
<circle cx="106.8" cy="522.0" r="4.45"/>
<circle cx="110.9" cy="521.9" r="4.45"/>
<circle cx="115.0" cy="521.7" r="4.45"/>
<circle cx="119.1" cy="521.6" r="4.45"/>
<circle cx="123.2" cy="521.5" r="4.45"/>
<circle cx="127.2" cy="521.3" r="4.45"/>
<circle cx="131.3" cy="521.2" r="4.45"/>
<circle cx="135.4" cy="521.0" r="4.45"/>
<circle cx="139.5" cy="520.9" r="4.45"/>
<circle cx="143.5" cy="520.7" r="4.45"/>
<circle cx="147.6" cy="520.6" r="4.45"/>
<circle cx="151.7" cy="520.4" r="4.45"/>
<circle cx="155.8" cy="520.3" r="4.45"/>
<circle cx="159.9" cy="520.1" r="4.45"/>
<circle cx="163.9" cy="519.9" r="4.45"/>
<circle cx="168.0" cy="519.7" r="4.45"/>
<circle cx="172.1" cy="519.5" r="4.45"/>
<circle cx="176.2" cy="519.3" r="4.45"/>
<circle cx="180.3" cy="519.0" r="4.45"/>
<circle cx="184.3" cy="518.8" r="4.45"/>
<circle cx="188.4" cy="518.5" r="4.45"/>
<circle cx="192.5" cy="518.3" r="4.45"/>
<circle cx="196.6" cy="518.0" r="4.45"/>
<circle cx="200.7" cy="517.8" r="4.45"/>
<circle cx="204.7" cy="517.5" r="4.45"/>
<circle cx="208.8" cy="517.2" r="4.45"/>
<circle cx="212.9" cy="517.0" r="4.45"/>
<circle cx="217.0" cy="516.7" r="4.45"/>
<circle cx="221.1" cy="516.4" r="4.45"/>
<circle cx="225.1" cy="516.1" r="4.45"/>
<circle cx="229.2" cy="515.9" r="4.45"/>
<circle cx="233.3" cy="515.6" r="4.45"/>
<circle cx="237.4" cy="515.3" r="4.45"/>
<circle cx="241.5" cy="514.9" r="4.45"/>
<circle cx="245.5" cy="514.6" r="4.45"/>
<circle cx="249.6" cy="514.3" r="4.45"/>
<circle cx="253.7" cy="514.0" r="4.45"/>
<circle cx="257.8" cy="513.6" r="4.45"/>
<circle cx="261.9" cy="513.3" r="4.45"/>
<circle cx="265.9" cy="512.9" r="4.45"/>
<circle cx="270.0" cy="512.6" r="4.45"/>
<circle cx="274.1" cy="512.2" r="4.45"/>
<circle cx="278.2" cy="511.9" r="4.45"/>
<circle cx="282.2" cy="511.5" r="4.45"/>
<circle cx="286.3" cy="511.1" r="4.45"/>
<circle cx="290.4" cy="510.7" r="4.45"/>
<circle cx="294.5" cy="510.4" r="4.45"/>
<circle cx="298.6" cy="510.0" r="4.45"/>
<circle cx="302.6" cy="509.6" r="4.45"/>
<circle cx="306.7" cy="509.2" r="4.45"/>
<circle cx="310.8" cy="508.7" r="4.45"/>
<circle cx="314.9" cy="508.3" r="4.45"/>
<circle cx="319.0" cy="507.8" r="4.45"/>
<circle cx="323.0" cy="507.3" r="4.45"/>
<circle cx="327.1" cy="506.8" r="4.45"/>
<circle cx="331.2" cy="506.3" r="4.45"/>
<circle cx="335.3" cy="505.7" r="4.45"/>
<circle cx="339.4" cy="505.2" r="4.45"/>
<circle cx="343.4" cy="504.6" r="4.45"/>
<circle cx="347.5" cy="503.9" r="4.45"/>
<circle cx="351.6" cy="503.3" r="4.45"/>
<circle cx="355.7" cy="502.6" r="4.45"/>
<circle cx="359.8" cy="501.9" r="4.45"/>
<circle cx="363.8" cy="501.1" r="4.45"/>
<circle cx="367.9" cy="500.3" r="4.45"/>
<circle cx="372.0" cy="499.4" r="4.45"/>
<circle cx="376.1" cy="498.4" r="4.45"/>
<circle cx="380.2" cy="497.4" r="4.45"/>
<circle cx="384.2" cy="496.5" r="4.45"/>
<circle cx="388.3" cy="495.5" r="4.45"/>
<circle cx="392.4" cy="494.4" r="4.45"/>
<circle cx="396.5" cy="493.4" r="4.45"/>
<circle cx="400.5" cy="492.3" r="4.45"/>
<circle cx="404.6" cy="491.1" r="4.45"/>
<circle cx="408.7" cy="489.8" r="4.45"/>
<circle cx="412.8" cy="488.5" r="4.45"/>
<circle cx="416.9" cy="487.2" r="4.45"/>
<circle cx="420.9" cy="485.9" r="4.45"/>
<circle cx="425.0" cy="484.5" r="4.45"/>
<circle cx="429.1" cy="483.1" r="4.45"/>
<circle cx="433.2" cy="481.5" r="4.45"/>
<circle cx="437.3" cy="479.7" r="4.45"/>
<circle cx="441.3" cy="477.4" r="4.45"/>
<circle cx="445.4" cy="474.8" r="4.45"/>
<circle cx="449.5" cy="471.5" r="4.45"/>
<circle cx="453.6" cy="467.3" r="4.45"/>
<circle cx="457.7" cy="461.4" r="4.45"/>
<circle cx="461.7" cy="442.2" r="4.45"/>
<circle cx="465.8" cy="404.2" r="4.45"/>
<circle cx="469.9" cy="354.7" r="4.45"/>
<circle cx="474.0" cy="302.9" r="4.45"/>
<circle cx="478.1" cy="255.2" r="4.45"/>
<circle cx="482.1" cy="211.8" r="4.45"/>
<circle cx="486.2" cy="173.4" r="4.45"/>
<circle cx="490.3" cy="140.0" r="4.45"/>
<circle cx="494.4" cy="110.2" r="4.45"/>
<circle cx="498.5" cy="89.2" r="4.45"/>
<circle cx="502.5" cy="74.8" r="4.45"/>
<circle cx="506.6" cy="67.0" r="4.45"/>
<circle cx="510.7" cy="65.8" r="4.45"/>
<circle cx="514.8" cy="71.2" r="4.45"/>
<circle cx="518.9" cy="83.2" r="4.45"/>
<circle cx="522.9" cy="101.8" r="4.45"/>
<circle cx="527.0" cy="125.5" r="4.45"/>
<circle cx="531.1" cy="157.4" r="4.45"/>
<circle cx="535.2" cy="194.4" r="4.45"/>
<circle cx="539.2" cy="232.0" r="4.45"/>
<circle cx="543.3" cy="260.8" r="4.45"/>
<circle cx="547.4" cy="277.5" r="4.45"/>
<circle cx="551.5" cy="286.3" r="4.45"/>
<circle cx="555.6" cy="294.0" r="4.45"/>
<circle cx="559.6" cy="299.6" r="4.45"/>
<circle cx="563.7" cy="304.3" r="4.45"/>
<circle cx="567.8" cy="308.6" r="4.45"/>
<circle cx="571.9" cy="312.4" r="4.45"/>
<circle cx="576.0" cy="316.1" r="4.45"/>
<circle cx="580.0" cy="319.7" r="4.45"/>
<circle cx="584.1" cy="323.3" r="4.45"/>
<circle cx="588.2" cy="326.8" r="4.45"/>
<circle cx="592.3" cy="330.2" r="4.45"/>
<circle cx="596.4" cy="333.6" r="4.45"/>
<circle cx="600.4" cy="337.0" r="4.45"/>
<circle cx="604.5" cy="340.4" r="4.45"/>
<circle cx="608.6" cy="343.7" r="4.45"/>
<circle cx="612.7" cy="347.0" r="4.45"/>
<circle cx="616.8" cy="350.3" r="4.45"/>
<circle cx="620.8" cy="353.6" r="4.45"/>
<circle cx="624.9" cy="357.0" r="4.45"/>
<circle cx="629.0" cy="360.3" r="4.45"/>
<circle cx="633.1" cy="363.7" r="4.45"/>
<circle cx="637.2" cy="367.1" r="4.45"/>
<circle cx="641.2" cy="370.6" r="4.45"/>
<circle cx="645.3" cy="374.1" r="4.45"/>
<circle cx="649.4" cy="377.7" r="4.45"/>
<circle cx="653.5" cy="381.3" r="4.45"/>
<circle cx="657.6" cy="385.0" r="4.45"/>
<circle cx="661.6" cy="388.8" r="4.45"/>
<circle cx="665.7" cy="392.7" r="4.45"/>
<circle cx="669.8" cy="396.7" r="4.45"/>
<circle cx="673.9" cy="400.8" r="4.45"/>
<circle cx="677.9" cy="405.0" r="4.45"/>
<circle cx="682.0" cy="409.4" r="4.45"/>
<circle cx="686.1" cy="413.9" r="4.45"/>
<circle cx="690.2" cy="418.6" r="4.45"/>
<circle cx="694.3" cy="423.6" r="4.45"/>
<circle cx="698.3" cy="429.4" r="4.45"/>
<circle cx="702.4" cy="435.5" r="4.45"/>
<circle cx="706.5" cy="443.0" r="4.45"/>
<circle cx="710.6" cy="452.3" r="4.45"/>
<circle cx="714.7" cy="463.3" r="4.45"/>
<circle cx="718.7" cy="476.8" r="4.45"/>
<circle cx="722.8" cy="495.3" r="4.45"/>
<circle cx="726.9" cy="522.6" r="4.45"/>
</g>
<g fill="none" stroke="#77AC30" stroke-width="3.90">
<circle cx="74.2" cy="522.7" r="4.45"/>
<circle cx="78.3" cy="522.7" r="4.45"/>
<circle cx="82.4" cy="522.7" r="4.45"/>
<circle cx="86.4" cy="522.7" r="4.45"/>
<circle cx="90.5" cy="522.7" r="4.45"/>
<circle cx="94.6" cy="522.7" r="4.45"/>
<circle cx="98.7" cy="522.7" r="4.45"/>
<circle cx="102.8" cy="522.6" r="4.45"/>
<circle cx="106.8" cy="522.6" r="4.45"/>
<circle cx="110.9" cy="522.6" r="4.45"/>
<circle cx="115.0" cy="522.6" r="4.45"/>
<circle cx="119.1" cy="522.6" r="4.45"/>
<circle cx="123.2" cy="522.6" r="4.45"/>
<circle cx="127.2" cy="522.5" r="4.45"/>
<circle cx="131.3" cy="522.5" r="4.45"/>
<circle cx="135.4" cy="522.5" r="4.45"/>
<circle cx="139.5" cy="522.5" r="4.45"/>
<circle cx="143.5" cy="522.4" r="4.45"/>
<circle cx="147.6" cy="522.4" r="4.45"/>
<circle cx="151.7" cy="522.4" r="4.45"/>
<circle cx="155.8" cy="522.4" r="4.45"/>
<circle cx="159.9" cy="522.3" r="4.45"/>
<circle cx="163.9" cy="522.3" r="4.45"/>
<circle cx="168.0" cy="522.2" r="4.45"/>
<circle cx="172.1" cy="522.1" r="4.45"/>
<circle cx="176.2" cy="522.1" r="4.45"/>
<circle cx="180.3" cy="522.0" r="4.45"/>
<circle cx="184.3" cy="521.9" r="4.45"/>
<circle cx="188.4" cy="521.8" r="4.45"/>
<circle cx="192.5" cy="521.8" r="4.45"/>
<circle cx="196.6" cy="521.7" r="4.45"/>
<circle cx="200.7" cy="521.6" r="4.45"/>
<circle cx="204.7" cy="521.5" r="4.45"/>
<circle cx="208.8" cy="521.4" r="4.45"/>
<circle cx="212.9" cy="521.3" r="4.45"/>
<circle cx="217.0" cy="521.2" r="4.45"/>
<circle cx="221.1" cy="521.1" r="4.45"/>
<circle cx="225.1" cy="521.0" r="4.45"/>
<circle cx="229.2" cy="520.9" r="4.45"/>
<circle cx="233.3" cy="520.8" r="4.45"/>
<circle cx="237.4" cy="520.6" r="4.45"/>
<circle cx="241.5" cy="520.5" r="4.45"/>
<circle cx="245.5" cy="520.4" r="4.45"/>
<circle cx="249.6" cy="520.2" r="4.45"/>
<circle cx="253.7" cy="520.1" r="4.45"/>
<circle cx="257.8" cy="519.9" r="4.45"/>
<circle cx="261.9" cy="519.7" r="4.45"/>
<circle cx="265.9" cy="519.5" r="4.45"/>
<circle cx="270.0" cy="519.3" r="4.45"/>
<circle cx="274.1" cy="519.1" r="4.45"/>
<circle cx="278.2" cy="518.9" r="4.45"/>
<circle cx="282.2" cy="518.6" r="4.45"/>
<circle cx="286.3" cy="518.4" r="4.45"/>
<circle cx="290.4" cy="518.2" r="4.45"/>
<circle cx="294.5" cy="518.1" r="4.45"/>
<circle cx="298.6" cy="517.9" r="4.45"/>
<circle cx="302.6" cy="517.7" r="4.45"/>
<circle cx="306.7" cy="517.6" r="4.45"/>
<circle cx="310.8" cy="517.4" r="4.45"/>
<circle cx="314.9" cy="517.3" r="4.45"/>
<circle cx="319.0" cy="517.2" r="4.45"/>
<circle cx="323.0" cy="517.0" r="4.45"/>
<circle cx="327.1" cy="516.9" r="4.45"/>
<circle cx="331.2" cy="516.8" r="4.45"/>
<circle cx="335.3" cy="516.6" r="4.45"/>
<circle cx="339.4" cy="516.5" r="4.45"/>
<circle cx="343.4" cy="516.4" r="4.45"/>
<circle cx="347.5" cy="516.2" r="4.45"/>
<circle cx="351.6" cy="516.1" r="4.45"/>
<circle cx="355.7" cy="515.9" r="4.45"/>
<circle cx="359.8" cy="515.8" r="4.45"/>
<circle cx="363.8" cy="515.6" r="4.45"/>
<circle cx="367.9" cy="515.4" r="4.45"/>
<circle cx="372.0" cy="515.2" r="4.45"/>
<circle cx="376.1" cy="515.0" r="4.45"/>
<circle cx="380.2" cy="514.8" r="4.45"/>
<circle cx="384.2" cy="514.6" r="4.45"/>
<circle cx="388.3" cy="514.4" r="4.45"/>
<circle cx="392.4" cy="514.1" r="4.45"/>
<circle cx="396.5" cy="513.9" r="4.45"/>
<circle cx="400.5" cy="513.6" r="4.45"/>
<circle cx="404.6" cy="513.3" r="4.45"/>
<circle cx="408.7" cy="513.0" r="4.45"/>
<circle cx="412.8" cy="512.6" r="4.45"/>
<circle cx="416.9" cy="512.2" r="4.45"/>
<circle cx="420.9" cy="511.9" r="4.45"/>
<circle cx="425.0" cy="511.5" r="4.45"/>
<circle cx="429.1" cy="511.1" r="4.45"/>
<circle cx="433.2" cy="510.7" r="4.45"/>
<circle cx="437.3" cy="510.3" r="4.45"/>
<circle cx="441.3" cy="509.9" r="4.45"/>
<circle cx="445.4" cy="509.5" r="4.45"/>
<circle cx="449.5" cy="509.1" r="4.45"/>
<circle cx="453.6" cy="508.8" r="4.45"/>
<circle cx="457.7" cy="508.4" r="4.45"/>
<circle cx="461.7" cy="507.9" r="4.45"/>
<circle cx="465.8" cy="507.4" r="4.45"/>
<circle cx="469.9" cy="506.9" r="4.45"/>
<circle cx="474.0" cy="506.3" r="4.45"/>
<circle cx="478.1" cy="505.8" r="4.45"/>
<circle cx="482.1" cy="505.4" r="4.45"/>
<circle cx="486.2" cy="504.9" r="4.45"/>
<circle cx="490.3" cy="504.3" r="4.45"/>
<circle cx="494.4" cy="503.6" r="4.45"/>
<circle cx="498.5" cy="502.7" r="4.45"/>
<circle cx="502.5" cy="501.8" r="4.45"/>
<circle cx="506.6" cy="500.8" r="4.45"/>
<circle cx="510.7" cy="499.8" r="4.45"/>
<circle cx="514.8" cy="498.7" r="4.45"/>
<circle cx="518.9" cy="497.6" r="4.45"/>
<circle cx="522.9" cy="496.5" r="4.45"/>
<circle cx="527.0" cy="495.4" r="4.45"/>
<circle cx="531.1" cy="494.2" r="4.45"/>
<circle cx="535.2" cy="493.0" r="4.45"/>
<circle cx="539.2" cy="491.8" r="4.45"/>
<circle cx="543.3" cy="490.6" r="4.45"/>
<circle cx="547.4" cy="489.0" r="4.45"/>
<circle cx="551.5" cy="487.3" r="4.45"/>
<circle cx="555.6" cy="485.4" r="4.45"/>
<circle cx="559.6" cy="483.5" r="4.45"/>
<circle cx="563.7" cy="481.3" r="4.45"/>
<circle cx="567.8" cy="478.8" r="4.45"/>
<circle cx="571.9" cy="475.5" r="4.45"/>
<circle cx="576.0" cy="470.3" r="4.45"/>
<circle cx="580.0" cy="456.5" r="4.45"/>
<circle cx="584.1" cy="416.5" r="4.45"/>
<circle cx="588.2" cy="355.2" r="4.45"/>
<circle cx="592.3" cy="291.3" r="4.45"/>
<circle cx="596.4" cy="233.0" r="4.45"/>
<circle cx="600.4" cy="182.9" r="4.45"/>
<circle cx="604.5" cy="142.3" r="4.45"/>
<circle cx="608.6" cy="109.0" r="4.45"/>
<circle cx="612.7" cy="89.9" r="4.45"/>
<circle cx="616.8" cy="83.0" r="4.45"/>
<circle cx="620.8" cy="88.4" r="4.45"/>
<circle cx="624.9" cy="106.1" r="4.45"/>
<circle cx="629.0" cy="135.4" r="4.45"/>
<circle cx="633.1" cy="180.4" r="4.45"/>
<circle cx="637.2" cy="237.9" r="4.45"/>
<circle cx="641.2" cy="294.5" r="4.45"/>
<circle cx="645.3" cy="327.5" r="4.45"/>
<circle cx="649.4" cy="340.7" r="4.45"/>
<circle cx="653.5" cy="350.0" r="4.45"/>
<circle cx="657.6" cy="356.6" r="4.45"/>
<circle cx="661.6" cy="363.5" r="4.45"/>
<circle cx="665.7" cy="370.2" r="4.45"/>
<circle cx="669.8" cy="376.7" r="4.45"/>
<circle cx="673.9" cy="383.1" r="4.45"/>
<circle cx="677.9" cy="389.6" r="4.45"/>
<circle cx="682.0" cy="396.0" r="4.45"/>
<circle cx="686.1" cy="402.2" r="4.45"/>
<circle cx="690.2" cy="408.7" r="4.45"/>
<circle cx="694.3" cy="415.5" r="4.45"/>
<circle cx="698.3" cy="423.0" r="4.45"/>
<circle cx="702.4" cy="430.8" r="4.45"/>
<circle cx="706.5" cy="439.5" r="4.45"/>
<circle cx="710.6" cy="449.5" r="4.45"/>
<circle cx="714.7" cy="461.3" r="4.45"/>
<circle cx="718.7" cy="475.4" r="4.45"/>
<circle cx="722.8" cy="494.5" r="4.45"/>
<circle cx="726.9" cy="522.6" r="4.45"/>
</g>
<path d="M118.0,125.6 L125.2,126.7 L132.3,127.7 L139.5,128.7 L146.7,129.6 L153.9,130.4 L161.0,131.1 L168.2,131.7 L175.4,132.4 L182.5,133.0 L189.7,133.7 L196.9,134.4 L204.1,135.2 L211.2,135.9 L218.4,136.7 L225.6,137.5 L232.7,138.3 L239.9,139.1 L247.1,140.0 L254.2,140.9 L261.4,141.8 L268.6,142.8 L275.8,143.8 L282.9,144.9 L290.1,146.0 L297.3,147.2 L304.4,148.4 L311.6,149.6 L318.8,150.9 L326.0,152.2 L333.1,153.5 L340.3,154.8 L347.5,156.1 L354.6,157.5 L361.8,158.8 L369.0,160.2 L376.2,161.6 L383.3,163.0 L390.5,164.5 L397.7,165.9 L404.8,167.4 L412.0,168.9 L419.2,170.3 L426.3,171.8 L433.5,173.3 L440.7,174.8 L447.9,176.3 L455.0,177.8 L462.2,179.4 L469.4,180.9 L476.5,182.5 L483.7,184.1 L490.9,185.7 L498.1,187.3 L505.2,189.0 L512.4,190.7 L519.6,192.4 L526.7,194.1 L533.9,195.8 L541.1,197.6 L548.3,199.4 L555.4,201.2 L562.6,203.0 L569.8,204.8 L576.9,206.7 L584.1,208.7 L591.3,210.9 L598.4,213.1 L605.6,215.5 L612.8,217.9 L620.0,220.4 L627.1,223.0 L634.3,225.7 L641.5,228.5 L648.6,231.5 L655.8,234.6 L663.0,237.8 L670.2,241.2 L677.3,244.7 L684.5,248.3" fill="none" stroke="#000" stroke-width="3.3"/>
<path d="M102.7,123.1 L128.3,116.5 L122.8,125.5 L126.6,134.9 Z" fill="#000"/>
<rect x="83.0" y="278.6" width="210.7" height="237.7" fill="#fff" stroke="#111" stroke-width="1.6"/>
<path d="M93.4,299.35H128" stroke="#000" stroke-width="4.7" fill="none"/>
<g font-family="'Liberation Serif', serif" font-size="24.5" fill="#151515" stroke="#151515" stroke-width="0.3">
<text x="141.9" y="308.0">Theory</text>
<circle cx="110.6" cy="338.8" r="5.45" fill="none" stroke="#0072BD" stroke-width="4.6"/>
<text x="143.7" y="347.2" font-style="italic">Γ</text><text x="158.2" y="350.2" font-style="italic" font-size="15.5">p</text><text transform="translate(166.3,352.4) scale(1.12,1)" font-size="33">/</text><text x="178.4" y="347.2" font-style="italic">D</text><text x="197.2" y="350.2" font-style="italic" font-size="16.0">s</text><text transform="translate(209.5,348.8) scale(1.34,1)">=</text><text x="233.6" y="347.2" font-size="25">0.88</text>
<circle cx="110.6" cy="378.2" r="5.45" fill="none" stroke="#D95319" stroke-width="4.6"/>
<text x="143.7" y="386.6" font-style="italic">Γ</text><text x="158.2" y="389.6" font-style="italic" font-size="15.5">p</text><text transform="translate(166.3,391.8) scale(1.12,1)" font-size="33">/</text><text x="178.4" y="386.6" font-style="italic">D</text><text x="197.2" y="389.6" font-style="italic" font-size="16.0">s</text><text transform="translate(209.5,388.2) scale(1.34,1)">=</text><text x="233.6" y="386.6" font-size="25">0.66</text>
<circle cx="110.6" cy="417.6" r="5.45" fill="none" stroke="#EDB120" stroke-width="4.6"/>
<text x="143.7" y="426.0" font-style="italic">Γ</text><text x="158.2" y="429.0" font-style="italic" font-size="15.5">p</text><text transform="translate(166.3,431.2) scale(1.12,1)" font-size="33">/</text><text x="178.4" y="426.0" font-style="italic">D</text><text x="197.2" y="429.0" font-style="italic" font-size="16.0">s</text><text transform="translate(209.5,427.6) scale(1.34,1)">=</text><text x="233.6" y="426.0" font-size="25">0.46</text>
<circle cx="110.6" cy="457.0" r="5.45" fill="none" stroke="#7E2F8E" stroke-width="4.6"/>
<text x="143.7" y="465.4" font-style="italic">Γ</text><text x="158.2" y="468.4" font-style="italic" font-size="15.5">p</text><text transform="translate(166.3,470.6) scale(1.12,1)" font-size="33">/</text><text x="178.4" y="465.4" font-style="italic">D</text><text x="197.2" y="468.4" font-style="italic" font-size="16.0">s</text><text transform="translate(209.5,467.0) scale(1.34,1)">=</text><text x="233.6" y="465.4" font-size="25">0.29</text>
<circle cx="110.6" cy="496.4" r="5.45" fill="none" stroke="#77AC30" stroke-width="4.6"/>
<text x="143.7" y="504.8" font-style="italic">Γ</text><text x="158.2" y="507.8" font-style="italic" font-size="15.5">p</text><text transform="translate(166.3,510.0) scale(1.12,1)" font-size="33">/</text><text x="178.4" y="504.8" font-style="italic">D</text><text x="197.2" y="507.8" font-style="italic" font-size="16.0">s</text><text transform="translate(209.5,506.4) scale(1.34,1)">=</text><text x="233.6" y="504.8" font-size="25">0.14</text>
<text x="83.4" y="105.7" font-style="italic">Γ</text><text x="95.6" y="110.6" font-style="italic" font-size="19.5">p</text><text transform="translate(107.7,111.5) scale(1.12,1)" font-size="33">/</text><text x="117.6" y="105.7" font-style="italic">D</text><text x="136.0" y="110.6" font-style="italic" font-size="18.0">s</text>
<text x="30.6" y="532.8">10</text><text x="54.9" y="523.4" font-size="20">0</text>
<text x="30.6" y="432.3">10</text><text x="54.9" y="423.0" font-size="20">1</text>
<text x="30.6" y="331.9">10</text><text x="54.9" y="322.6" font-size="20">2</text>
<text x="30.6" y="231.5">10</text><text x="54.9" y="222.1" font-size="20">3</text>
<text x="30.6" y="131.1">10</text><text x="54.9" y="121.7" font-size="20">4</text>
<text x="30.6" y="30.7">10</text><text x="54.9" y="21.3" font-size="20">5</text>
<text x="73.4" y="550.3" text-anchor="middle">0</text>
<text x="203.9" y="550.3" text-anchor="middle">0.2</text>
<text x="334.5" y="550.3" text-anchor="middle">0.4</text>
<text x="465.0" y="550.3" text-anchor="middle">0.6</text>
<text x="595.6" y="550.3" text-anchor="middle">0.8</text>
<text x="726.1" y="550.3" text-anchor="middle">1.0</text>
<text x="386.2" y="581" font-style="italic" font-size="31.5">x</text>
<text x="-0.5" y="282.9" font-style="italic" font-size="31.5">n</text>
</g>
</svg>
</body></html>
